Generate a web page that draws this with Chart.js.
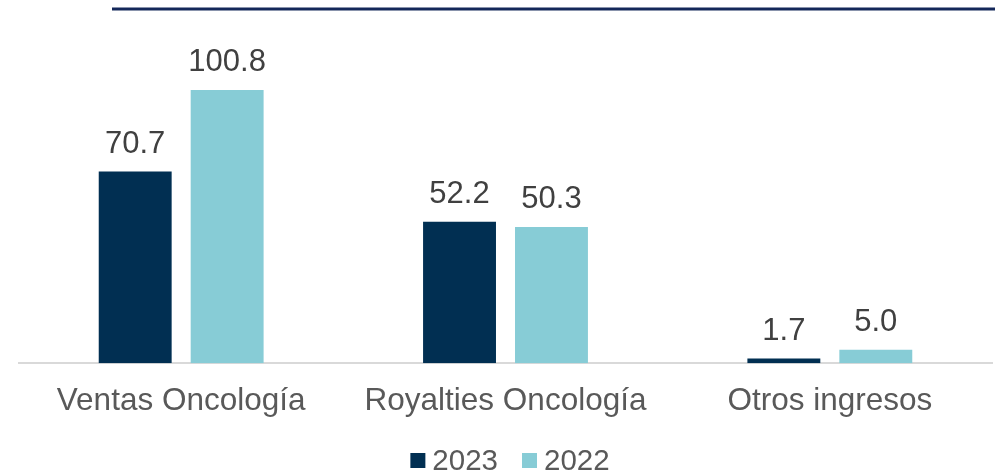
<!DOCTYPE html>
<html>
<head>
<meta charset="utf-8">
<script src="https://cdn.jsdelivr.net/npm/chart.js@4"></script>
<style>
html,body{margin:0;padding:0;background:#fff;}
#wrap{width:995px;height:473px;position:relative;}
</style>
</head>
<body>
<div id="wrap"><canvas id="c" width="995" height="473"></canvas></div>
<script>
const categories = ["Ventas Oncología", "Royalties Oncología", "Otros ingresos"];
const seriesNames = ["2023", "2022"];
const values2023 = [70.7, 52.2, 1.7];
const values2022 = [100.8, 50.3, 5.0];
const seriesColors = ["#012f52", "#87ccd6"];

const FONT = '"Liberation Sans", Arial, sans-serif';

const labelPlugin = {
  id: 'valueLabels',
  afterDatasetsDraw(chart) {
    const ctx = chart.ctx;
    ctx.save();
    ctx.font = '31px ' + FONT;
    ctx.fillStyle = '#404040';
    ctx.textAlign = 'center';
    ctx.textBaseline = 'alphabetic';
    chart.data.datasets.forEach((ds, i) => {
      const meta = chart.getDatasetMeta(i);
      meta.data.forEach((el, j) => {
        ctx.fillText(ds.data[j].toFixed(1), el.x, el.y - 19);
      });
    });
    ctx.restore();
  }
};

const decoPlugin = {
  id: 'deco',
  afterDraw(chart) {
    const ctx = chart.ctx;
    ctx.save();
    // top rule
    ctx.fillStyle = '#14285a';
    ctx.fillRect(112, 7.5, 883, 3);
    // legend
    ctx.font = '29.5px ' + FONT;
    ctx.textBaseline = 'alphabetic';
    ctx.textAlign = 'left';
    const items = chart.data.datasets.map(d => ({text: d.label, color: d.backgroundColor}));
    const box = 15, gapText = 7, gapItem = 24;
    let total = 0;
    const widths = items.map(it => ctx.measureText(it.text).width);
    items.forEach((it, k) => { total += box + gapText + widths[k] + (k < items.length - 1 ? gapItem : 0); });
    let x = 510 - total / 2;
    items.forEach((it, k) => {
      ctx.fillStyle = it.color;
      ctx.fillRect(x, 453, box, box);
      ctx.fillStyle = '#595959';
      ctx.fillText(it.text, x + box + gapText, 469.5);
      x += box + gapText + widths[k] + gapItem;
    });
    ctx.restore();
  }
};

new Chart(document.getElementById('c'), {
  type: 'bar',
  data: {
    labels: categories,
    datasets: [
      {label: seriesNames[0], data: values2023, backgroundColor: seriesColors[0]},
      {label: seriesNames[1], data: values2022, backgroundColor: seriesColors[1]}
    ]
  },
  options: {
    responsive: false,
    animation: false,
    layout: {padding: {left: 19, right: 3, top: 38, bottom: 34}},
    plugins: {legend: {display: false}, tooltip: {enabled: false}},
    datasets: {bar: {categoryPercentage: 0.567, barPercentage: 0.793}},
    scales: {
      x: {
        grid: {display: false, drawTicks: false},
        border: {display: true, color: '#d9d9d9', width: 2},
        ticks: {font: {family: FONT, size: 31.5}, color: '#595959', padding: 19, maxRotation: 0}
      },
      y: {
        display: false,
        min: 0,
        max: 120
      }
    }
  },
  plugins: [labelPlugin, decoPlugin]
});
</script>
</body>
</html>
